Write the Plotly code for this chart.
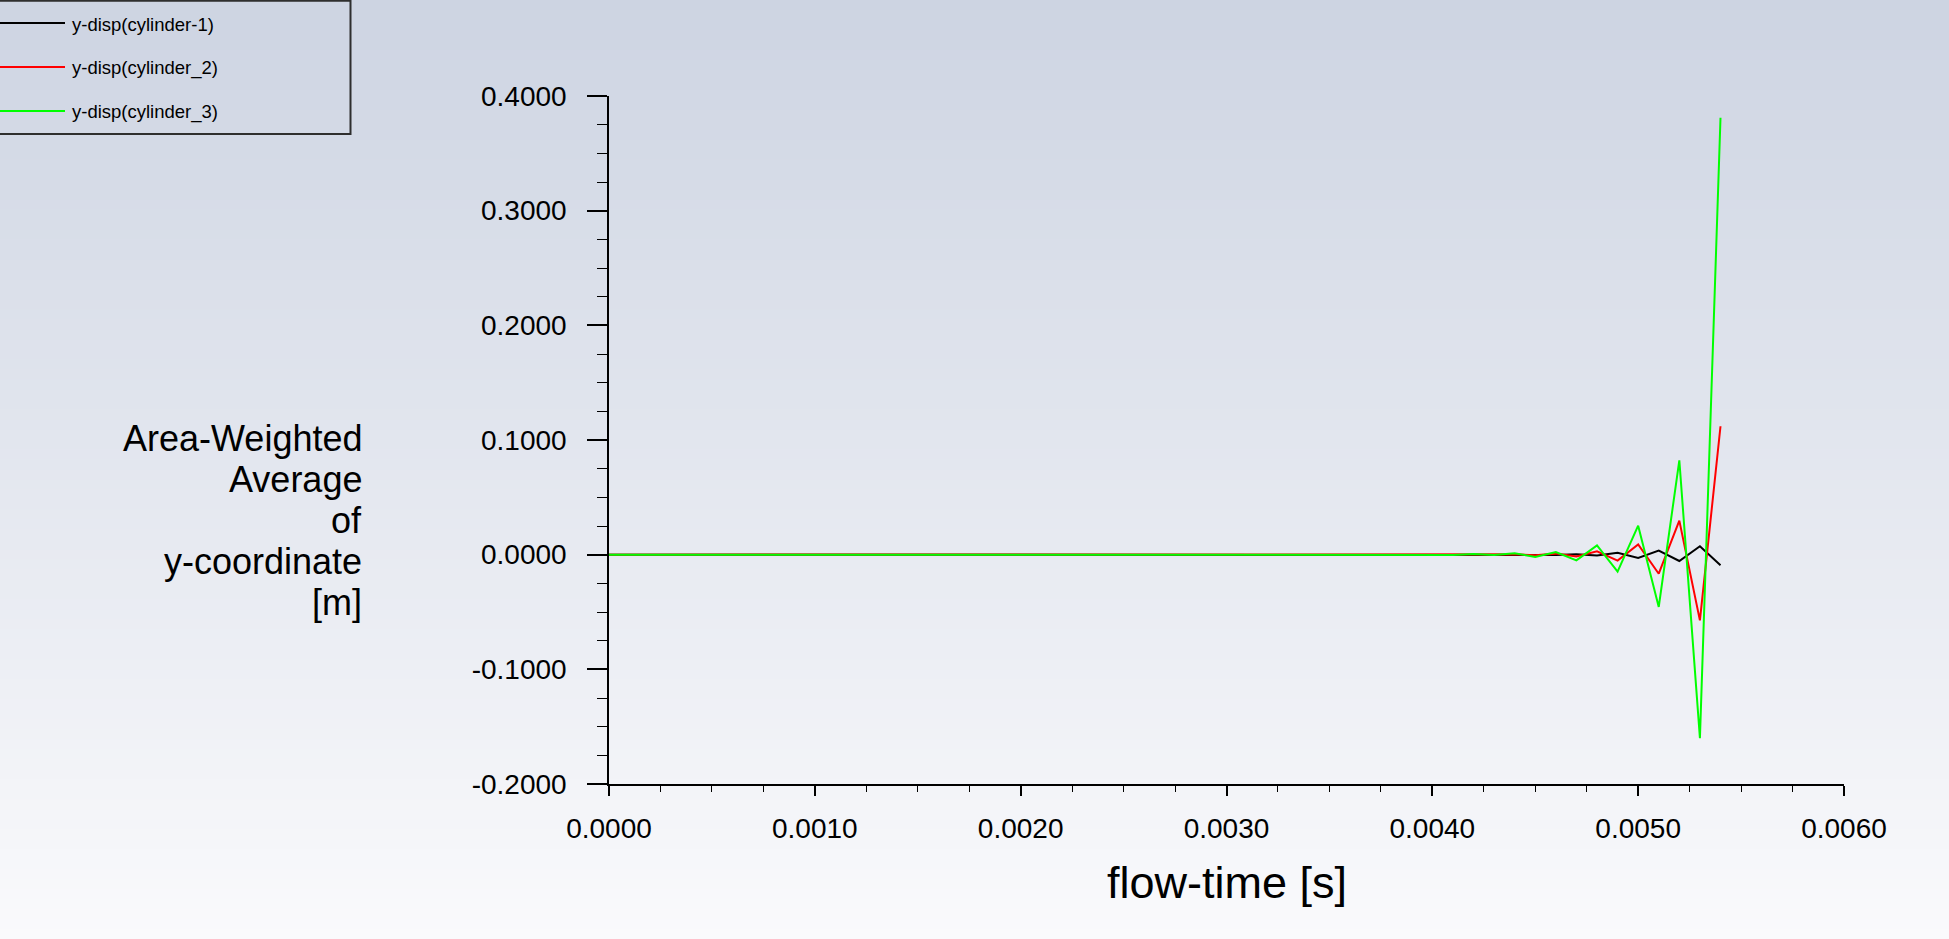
import plotly.graph_objects as go

# ---------------- data ----------------
flow_time = [round(i * 0.0001, 4) for i in range(55)]

cyl1 = [0.0] * 44 + [-0.0001, 0.0002, -0.0003, 0.0004, -0.0007, 0.0017,
                     -0.0029, 0.0035, -0.0055, 0.0073, -0.0093]
cyl2 = [0.0] * 40 + [0.0001, -0.0001, 0.0002, -0.0002, 0.0003, -0.0005, 0.0009,
                     -0.0015, 0.0029, -0.0052, 0.0090, -0.0166, 0.0297, -0.0573, 0.1120]
cyl3 = [0.0] * 40 + [0.0003, -0.0002, 0.0005, -0.0003, 0.0012, -0.0020, 0.0023,
                     -0.0050, 0.0080, -0.0148, 0.0253, -0.0456, 0.0823, -0.1600, 0.3810]

series_names = ["y-disp(cylinder-1)", "y-disp(cylinder_2)", "y-disp(cylinder_3)"]
series_values = [cyl1, cyl2, cyl3]
series_colors = ["#000000", "#ff0000", "#00ff00"]

x_tickvals = [0.0, 0.001, 0.002, 0.003, 0.004, 0.005, 0.006]
x_ticktext = ["0.0000", "0.0010", "0.0020", "0.0030", "0.0040", "0.0050", "0.0060"]
y_tickvals = [-0.2, -0.1, 0.0, 0.1, 0.2, 0.3, 0.4]
y_ticktext = ["-0.2000", "-0.1000", "0.0000", "0.1000", "0.2000", "0.3000", "0.4000"]

y_title_lines = ["Area-Weighted", "Average", "of", "y-coordinate", "[m]"]
x_title = "flow-time [s]"

# ---------------- geometry ----------------
W, H = 1949, 939
L, R, T, B = 609, 105, 96, 155
PW, PH = W - L - R, H - T - B
FONT = "Liberation Sans, Arial, sans-serif"


def px(x):
    return (x - L) / PW


def py(y):
    return (H - B - y) / PH


fig = go.Figure()
for name, vals, col in zip(series_names, series_values, series_colors):
    fig.add_trace(go.Scatter(x=flow_time, y=vals, mode="lines", name=name,
                             line=dict(color=col, width=2), showlegend=False))

shapes = []
# background gradient
top_c = (205, 212, 226)
bot_c = (250, 250, 252)
n = 94
for i in range(n):
    t = (i + 0.5) / n
    c = tuple(round(a + (b - a) * t) for a, b in zip(top_c, bot_c))
    y0 = i * H / n
    y1 = (i + 1) * H / n + 1
    shapes.append(dict(type="rect", xref="paper", yref="paper", layer="below",
                       x0=px(-2), x1=px(W + 2), y0=py(y1), y1=py(y0),
                       line=dict(width=0), fillcolor="rgb(%d,%d,%d)" % c))

# custom legend box
shapes.append(dict(type="rect", xref="paper", yref="paper", layer="above",
                   x0=px(-5), x1=px(350.5), y0=py(134), y1=py(0.8),
                   line=dict(color="#2e2e2e", width=2), fillcolor="rgba(0,0,0,0)"))
leg_y = [23, 67, 111]
annotations = []
for name, col, yy in zip(series_names, series_colors, leg_y):
    shapes.append(dict(type="line", xref="paper", yref="paper",
                       x0=px(0), x1=px(65), y0=py(yy), y1=py(yy),
                       line=dict(color=col, width=2)))
    annotations.append(dict(text=name, xref="paper", yref="paper", x=px(71), y=py(yy + 1),
                            xanchor="left", yanchor="middle", showarrow=False, borderpad=0,
                            font=dict(family=FONT, size=18.5, color="#000000")))

# y title (multi-line, right aligned)
line_centers = [438, 479, 520, 561, 602]
for txt, yy in zip(y_title_lines, line_centers):
    annotations.append(dict(text=txt, xref="paper", yref="paper", x=px(363), y=py(yy),
                            xanchor="right", yanchor="middle", showarrow=False, borderpad=0,
                            font=dict(family=FONT, size=36, color="#000000")))
# x title
annotations.append(dict(text=x_title, xref="paper", yref="paper", x=0.5, y=py(882),
                        xanchor="center", yanchor="middle", showarrow=False, borderpad=0,
                        font=dict(family=FONT, size=45, color="#000000")))

fig.update_layout(
    width=W, height=H, autosize=False,
    margin=dict(l=L, r=R, t=T, b=B, pad=0),
    paper_bgcolor="rgb(250,250,252)",
    plot_bgcolor="rgba(0,0,0,0)",
    shapes=shapes, annotations=annotations,
    showlegend=False,
    font=dict(family=FONT, color="#000000"),
)

fig.update_xaxes(
    range=[0, 0.006], showgrid=False, zeroline=False,
    showline=True, linecolor="#000000", linewidth=1.5,
    tickmode="array", tickvals=x_tickvals, ticktext=x_ticktext,
    ticks="outside", ticklen=10, tickwidth=1.5, tickcolor="#000000",
    ticklabelstandoff=9,
    tickfont=dict(family=FONT, size=28, color="#000000"),
    minor=dict(tickmode="linear", tick0=0, dtick=0.00025, ticks="outside",
               ticklen=6, tickwidth=1.2, tickcolor="#000000", showgrid=False),
)
fig.update_yaxes(
    range=[-0.2, 0.4], showgrid=False, zeroline=False,
    showline=True, linecolor="#000000", linewidth=1.5,
    tickmode="array", tickvals=y_tickvals, ticktext=y_ticktext,
    ticks="outside", ticklen=20, tickwidth=1.5, tickcolor="#000000",
    ticklabelstandoff=15,
    tickfont=dict(family=FONT, size=28, color="#000000"),
    minor=dict(tickmode="linear", tick0=0, dtick=0.025, ticks="outside",
               ticklen=10, tickwidth=1.2, tickcolor="#000000", showgrid=False),
)

fig.write_html("out.html", config={"displayModeBar": False},
               post_script="document.body.style.margin='0px';document.body.style.overflow='hidden';")
